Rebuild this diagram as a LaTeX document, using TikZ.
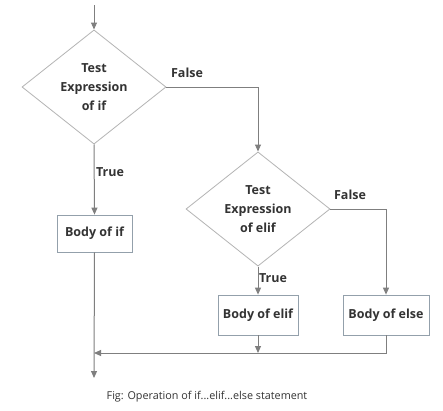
\documentclass[tikz,border=0pt]{standalone}
\usepackage{fontspec}
\setmainfont{Open Sans}
\usetikzlibrary{shapes.geometric,arrows.meta}
\definecolor{linegray}{HTML}{7F7F7F}
\definecolor{diagray}{HTML}{B4B4B4}
\definecolor{boxgray}{HTML}{93A0AB}
\definecolor{txt}{HTML}{333333}
\tikzset{
  decision/.style={diamond, draw=diagray, line width=0.8pt, minimum width=144pt, minimum height=112pt, inner sep=0pt, align=center, text=txt, font=\fontsize{12.5}{19}\selectfont\bfseries},
  bodybox/.style={rectangle, draw=boxgray, line width=0.8pt, inner sep=0pt, text=txt, font=\fontsize{12.5}{14}\selectfont\bfseries},
  conn/.style={draw=linegray, line width=1pt},
  arr/.style={conn, -{Triangle[length=7pt,width=6pt]}, linegray},
  lbl/.style={text=txt, font=\fontsize{12.5}{14}\selectfont\bfseries, inner sep=0pt}
}
\begin{document}
\begin{tikzpicture}[x=1pt,y=-1pt]
\useasboundingbox[fill=white] (0,0) rectangle (443,410);
\coordinate (start) at (94,5);
\node[decision] (d1) at (94,87) {Test\\Expression\\of if};
\node[decision] (d2) at (258,209) {Test\\Expression\\of elif};
\node[bodybox, minimum width=75pt, minimum height=37pt] (bif) at (94.5,233.5) {Body of if};
\node[bodybox, minimum width=80pt, minimum height=40pt] (belif) at (258,315) {Body of elif};
\node[bodybox, minimum width=86pt, minimum height=40pt] (belse) at (386,315) {Body of else};
\coordinate (c1) at (258,87);
\coordinate (c2) at (386,209);
\coordinate (j1) at (258,353);
\coordinate (j2) at (386,353);
\coordinate (j0) at (94,353);
\coordinate (endp) at (94,378);
\draw[arr] (start) -- (d1.north);
\draw[arr] (d1.east) -- (c1) -- (d2.north);
\draw[arr] (d1.south) -- (bif.north);
\draw[arr] (bif.south) -- (endp);
\draw[arr] (d2.south) -- (belif.north);
\draw[arr] (d2.east) -- (c2) -- (belse.north);
\draw[arr] (belif.south) -- (j1);
\draw[arr] (belse.south) -- (j2) -- (j0);
\node[lbl] (f1) at (187,73) {False};
\node[lbl] (t1) at (110,172) {True};
\node[lbl] (f2) at (350,195) {False};
\node[lbl] (t2) at (273,278) {True};
\node[text=txt, font=\fontsize{10.8}{12}\selectfont, inner sep=0pt] (cap) at (207,397) {Fig: Operation of if...elif...else statement};
\end{tikzpicture}
\end{document}
